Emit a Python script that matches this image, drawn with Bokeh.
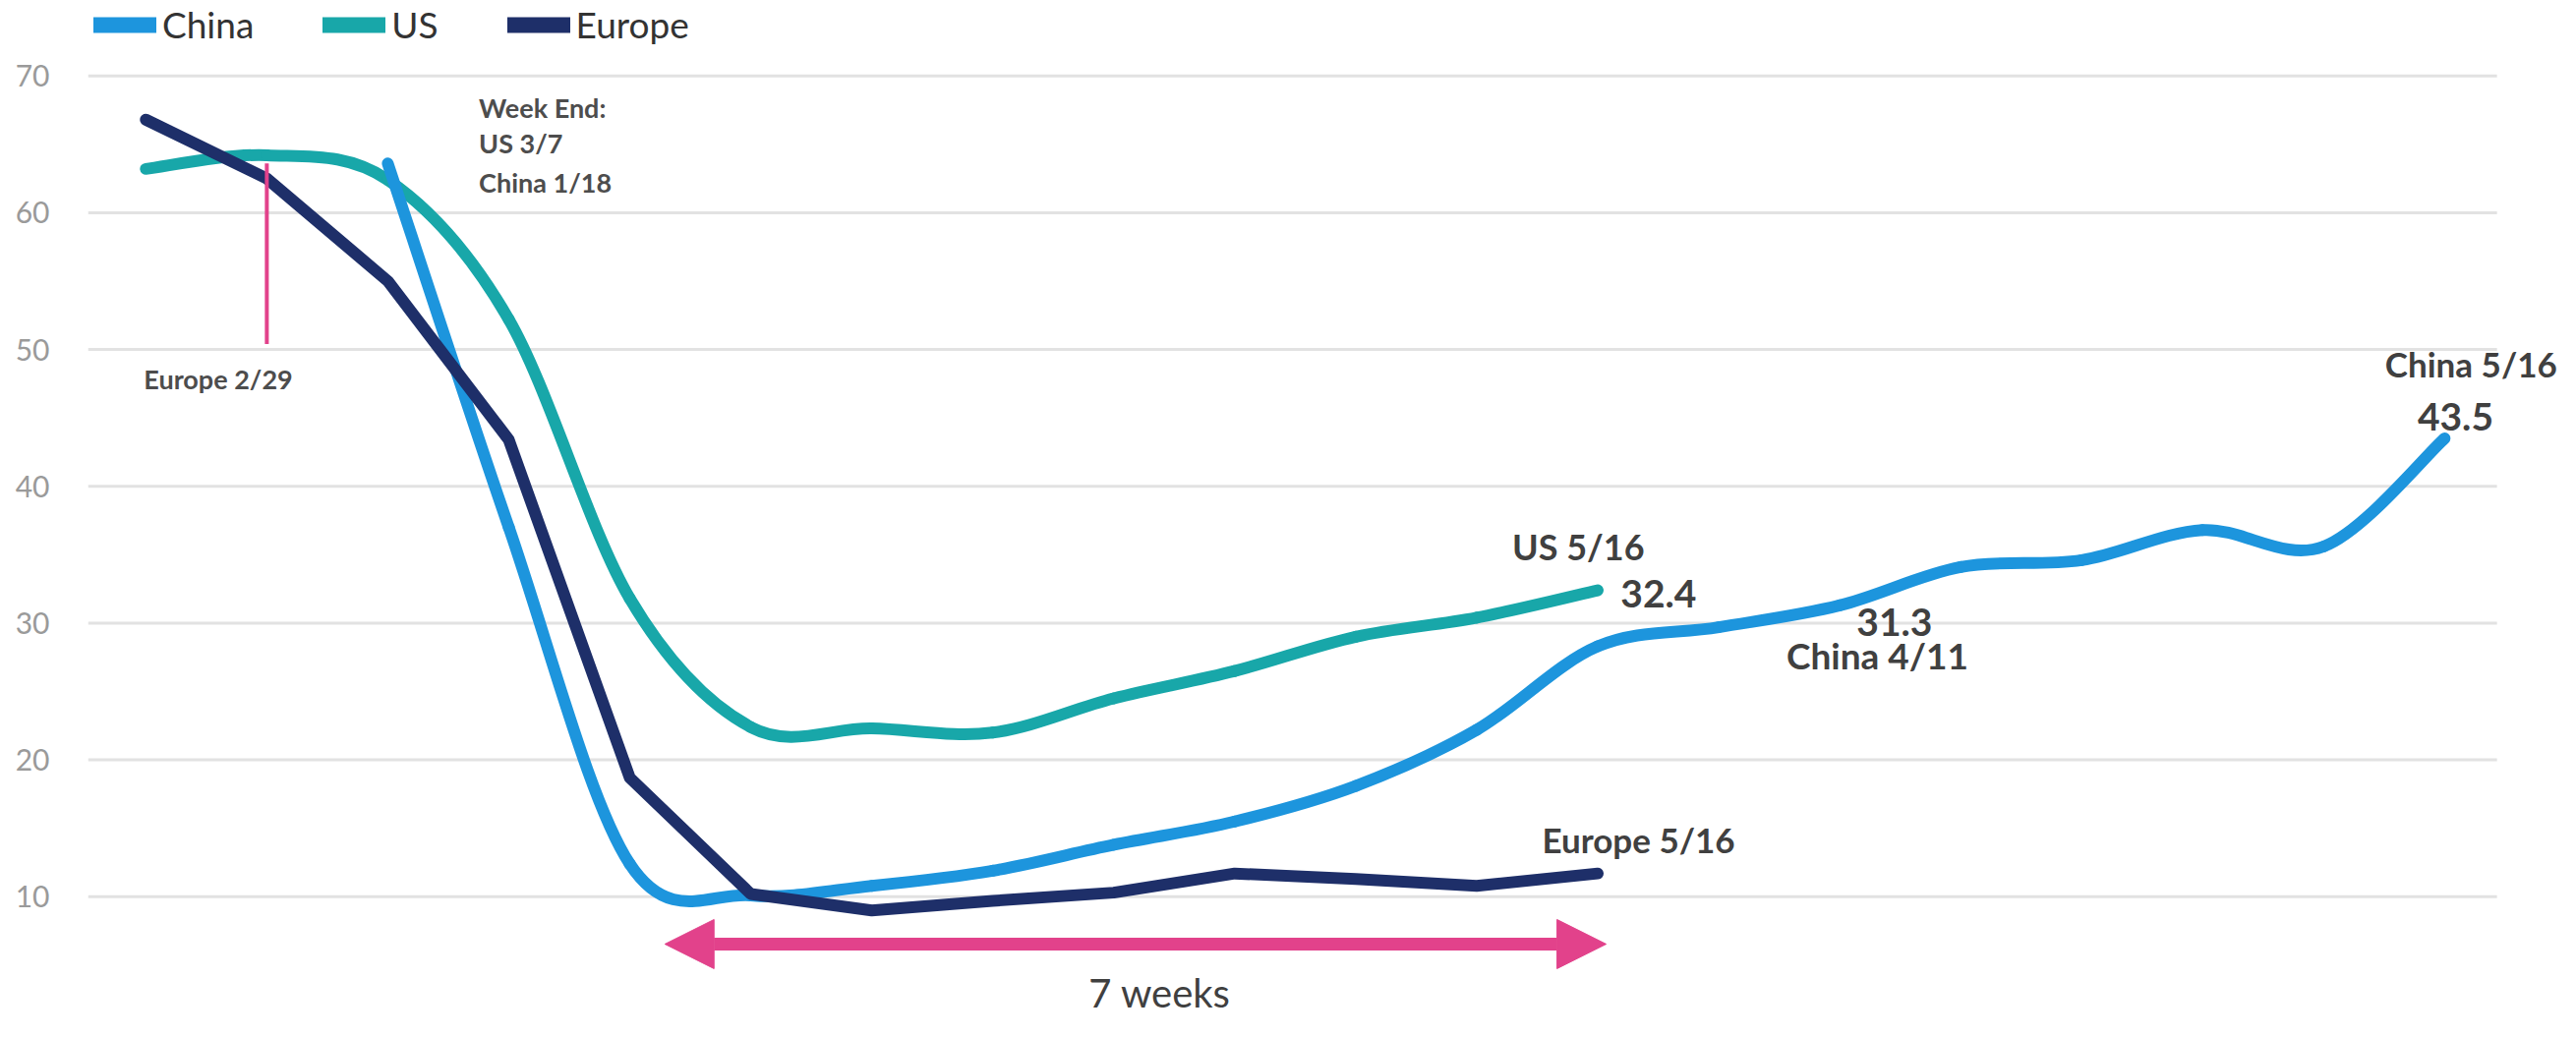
import numpy as np
from bokeh.plotting import figure
from bokeh.layouts import row
from bokeh.models import (Range1d, FixedTicker, Label, Arrow, NormalHead,
                          Legend, LegendItem, ColumnDataSource, Spacer)
from bokeh.embed import file_html
from bokeh.resources import INLINE

# ---------------- data ----------------
us_weeks = ["2/22", "2/29", "3/7", "3/14", "3/21", "3/28", "4/4", "4/11",
            "4/18", "4/25", "5/2", "5/9", "5/16"]
europe_weeks = list(us_weeks)
china_weeks = ["1/18", "1/25", "2/1", "2/8", "2/15", "2/22", "2/29", "3/7",
               "3/14", "3/21", "3/28", "4/4", "4/11", "4/18", "4/25", "5/2",
               "5/9", "5/16"]

china = [63.6, 37.0, 12.4, 10.1, 10.8, 11.9, 13.8, 15.5, 18.1, 22.2, 28.3,
         29.7, 31.3, 34.1, 34.6, 36.8, 35.6, 43.5]
us = [63.2, 64.2, 62.4, 52.2, 31.8, 22.4, 22.3, 22.0, 24.5, 26.5, 29.0,
      30.4, 32.4]
europe = [66.8, 62.5, 55.0, 43.4, 18.7, 10.2, 9.0, 9.7, 10.3, 11.7, 11.3,
          10.8, 11.7]

# China's week of 1/18 is aligned with the US week of 3/7
china_start_week = us_weeks.index("3/7")

y_ticks = [10, 20, 30, 40, 50, 60, 70]

# ---------------- style ----------------
FONT = "Lato"
C_CHINA = "#1d95dd"
C_US = "#18a7a9"
C_EUR = "#1e2f69"
C_PINK = "#e2428b"
TXT = "#404040"
LW = 12
X0, X_GRID_END, X1 = -0.478, 19.433, 19.96

us_x = list(range(len(us)))
eur_x = list(range(len(europe)))
china_x = [china_start_week + i for i in range(len(china))]

p = figure(width=2592, height=1039, output_backend="svg", toolbar_location=None,
           x_range=Range1d(X0, X1), y_range=Range1d(0.862, 75.51),
           x_axis_location=None, min_border_left=0, min_border_right=0,
           min_border_top=0, min_border_bottom=0)
p.outline_line_color = None
p.background_fill_color = "white"
p.border_fill_color = "white"
p.xgrid.visible = False
p.ygrid.visible = False
p.yaxis.ticker = FixedTicker(ticks=y_ticks)
p.yaxis.axis_line_color = None
p.yaxis.major_tick_line_color = None
p.yaxis.minor_tick_line_color = None
p.yaxis.major_label_text_font = FONT
p.yaxis.major_label_text_font_size = "30px"
p.yaxis.major_label_text_color = "#9a9a9a"
p.yaxis.major_label_standoff = 33

# horizontal gridlines (end before the right-hand labels)
p.segment(x0=[X0] * len(y_ticks), y0=y_ticks,
          x1=[X_GRID_END] * len(y_ticks), y1=y_ticks,
          line_color="#e2e2e2", line_width=3)


def smooth_source(xs, ys):
    x = np.asarray(xs, float)
    y = np.asarray(ys, float)
    n = len(x)
    xp = np.concatenate([[x[0]], x, [x[-1]]])
    yp = np.concatenate([[y[0]], y, [y[-1]]])
    cx0 = x[:-1] + (xp[2:n + 1] - xp[0:n - 1]) / 6.0
    cy0 = y[:-1] + (yp[2:n + 1] - yp[0:n - 1]) / 6.0
    cx1 = x[1:] - (xp[3:n + 2] - xp[1:n]) / 6.0
    cy1 = y[1:] - (yp[3:n + 2] - yp[1:n]) / 6.0
    return ColumnDataSource(dict(x0=x[:-1], y0=y[:-1], x1=x[1:], y1=y[1:],
                                 cx0=cx0, cy0=cy0, cx1=cx1, cy1=cy1))


# smooth lines (US, China) and straight line (Europe)
p.bezier(x0="x0", y0="y0", x1="x1", y1="y1", cx0="cx0", cy0="cy0",
         cx1="cx1", cy1="cy1", source=smooth_source(us_x, us),
         line_color=C_US, line_width=LW, line_cap="round")
p.bezier(x0="x0", y0="y0", x1="x1", y1="y1", cx0="cx0", cy0="cy0",
         cx1="cx1", cy1="cy1", source=smooth_source(china_x, china),
         line_color=C_CHINA, line_width=LW, line_cap="round")
p.line(eur_x, europe, line_color=C_EUR, line_width=LW, line_cap="round",
       line_join="round")

# Europe 2/29 marker line
e229 = europe_weeks.index("2/29")
p.segment(x0=[e229], y0=[50.4], x1=[e229], y1=[63.6], line_color=C_PINK,
          line_width=4)

# legend (proxy renderers drawn outside the visible range)
leg_rs = []
for col in (C_CHINA, C_US, C_EUR):
    leg_rs.append(p.line(x=[-20, -19], y=[-20, -20], line_color=col,
                         line_width=16, line_cap="round"))
legend = Legend(items=[LegendItem(label="China", renderers=[leg_rs[0]]),
                       LegendItem(label="US", renderers=[leg_rs[1]]),
                       LegendItem(label="Europe", renderers=[leg_rs[2]])],
                orientation="horizontal", location=(6, 992), padding=0,
                margin=0, spacing=70, glyph_width=64, glyph_height=34,
                label_height=34, label_standoff=6, label_text_font=FONT,
                label_text_font_size="37px", label_text_color="#333333",
                background_fill_alpha=0, border_line_color=None)
p.add_layout(legend)


def add_label(x, y, text, size, bold=True, align="left", color=TXT):
    p.add_layout(Label(x=x, y=y, text=text, text_font=FONT,
                       text_font_size=size,
                       text_font_style="bold" if bold else "normal",
                       text_align=align, text_baseline="middle",
                       text_color=color))


add_label(2.753, 67.67, "Week End:", "27px", color="#4d4d4d")
add_label(2.753, 65.09, "US 3/7", "27px", color="#4d4d4d")
add_label(2.753, 62.21, "China 1/18", "27px", color="#4d4d4d")
add_label(-0.016, 47.84, "Europe  2/29", "27px", color="#4d4d4d")

add_label(11.84, 35.63, f"US {us_weeks[-1]}", "36px", align="center")
add_label(us_x[-1] + 0.19, 32.18, f"{us[-1]}", "39px")
i411 = china_weeks.index("4/11")
add_label(china_x[i411] + 0.14, 30.10, f"{china[i411]}", "39px")
add_label(13.56, 27.66, "China 4/11", "37px")
add_label(19.93, 48.99, f"China {china_weeks[-1]}", "35px", align="right")
add_label(19.09, 45.11, f"{china[-1]}", "39px", align="center")
add_label(11.54, 14.22, f"Europe {europe_weeks[-1]}", "35px")

# 7 weeks arrow
p.add_layout(Arrow(start=NormalHead(size=50, fill_color=C_PINK,
                                    line_color=C_PINK, line_width=1),
                   end=NormalHead(size=50, fill_color=C_PINK,
                                  line_color=C_PINK, line_width=1),
                   x_start=4.29, y_start=6.54, x_end=12.07, y_end=6.54,
                   line_color=C_PINK, line_width=13))
add_label(8.38, 2.95, "7 weeks", "40px", bold=False, align="center")

layout = row(Spacer(width=12, height=1039), p)
open("out.html", "w").write(file_html(layout, INLINE))
